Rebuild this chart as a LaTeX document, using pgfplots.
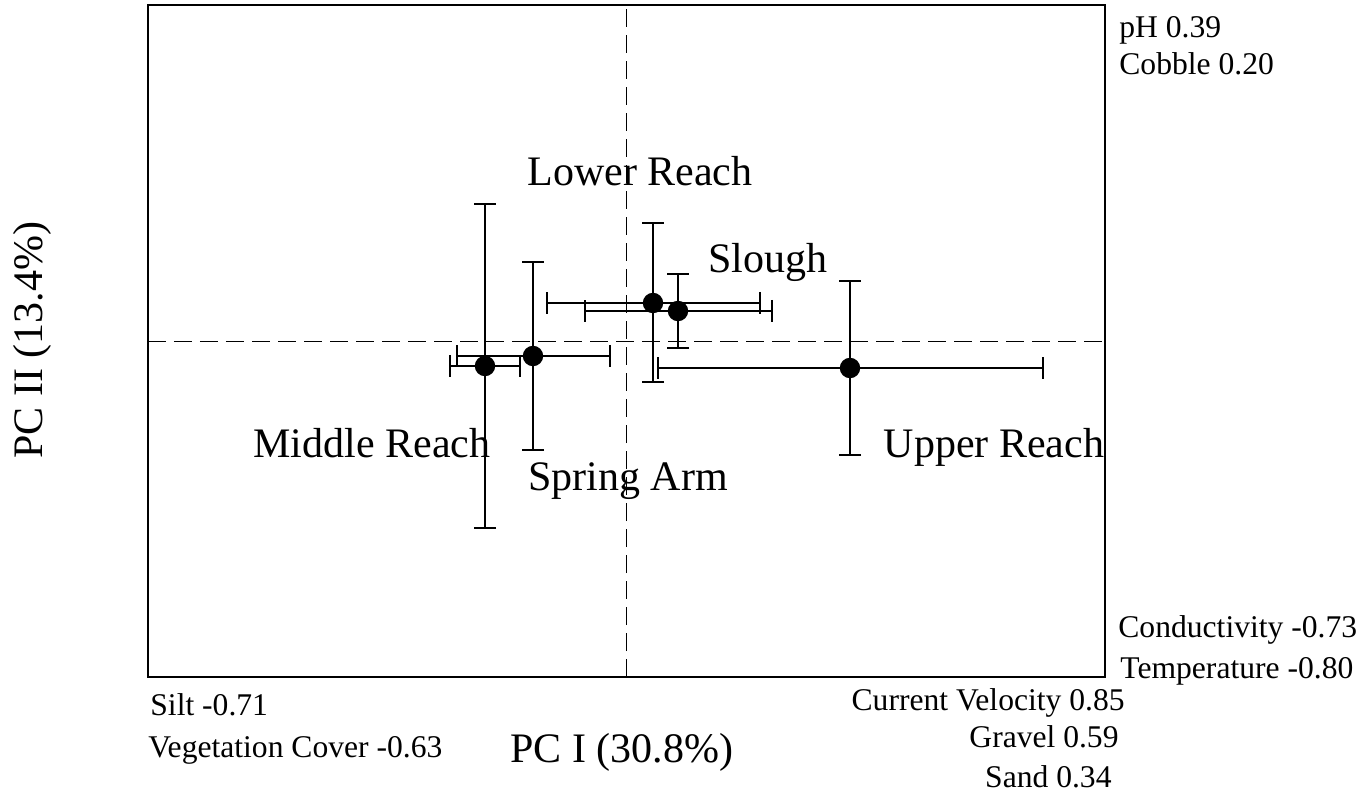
\documentclass[border=0pt]{standalone}
\usepackage{pgfplots}
\pgfplotsset{compat=1.18}
\usepackage{fontspec}
\setmainfont{Liberation Serif}
\newcommand{\bigf}{\fontsize{21}{25}\selectfont}
\newcommand{\smlf}{\fontsize{15.8}{19}\selectfont}
\begin{document}
\begin{tikzpicture}
\begin{axis}[
  at={(0,0)}, anchor=south west,
  scale only axis, width=478.5pt, height=336pt,
  xmin=-4.78, xmax=4.79, ymin=-3.35, ymax=3.37,
  xtick=\empty, ytick=\empty,
  axis line style={line width=1pt},
  clip=false,
]
% reference lines
\addplot[black, line width=0.5pt, dash pattern=on 9pt off 4pt] coordinates {(0,-3.35) (0,3.37)};
\addplot[black, line width=0.5pt, dash pattern=on 9pt off 4pt] coordinates {(-4.78,0) (4.79,0)};
% site means with error bars
\addplot[only marks, mark=*, mark size=4.6pt, black, line width=1pt,
  error bars/.cd, x dir=both, x explicit, y dir=both, y explicit,
  error bar style={line width=1pt, black},
  error mark=|,
  error mark options={mark size=5.5pt, line width=1pt, black}]
  table[x=x, y=y, x error=ex, y error=ey] {
x y ex ey
-1.41 -0.24 0.35 1.615
-0.93 -0.14 0.765 0.935
0.27 0.39 1.065 0.795
0.52 0.31 0.935 0.37
2.24 -0.26 1.925 0.87
};
% group labels
\node[anchor=base, inner sep=0] at (axis cs:0.14,1.56) {\bigf Lower Reach};
\node[anchor=base, inner sep=0] at (axis cs:1.42,0.69) {\bigf Slough};
\node[anchor=base, inner sep=0] at (axis cs:-2.54,-1.15) {\bigf Middle Reach};
\node[anchor=base, inner sep=0] at (axis cs:0.02,-1.48) {\bigf Spring Arm};
\node[anchor=base, inner sep=0] at (axis cs:3.68,-1.15) {\bigf Upper Reach};
% loadings
\node[anchor=base west, inner sep=0] at (axis cs:4.93,3.04) {\smlf pH 0.39};
\node[anchor=base west, inner sep=0] at (axis cs:4.93,2.67) {\smlf Cobble 0.20};
\node[anchor=base west, inner sep=0] at (axis cs:4.92,-2.95) {\smlf Conductivity -0.73};
\node[anchor=base west, inner sep=0] at (axis cs:4.94,-3.36) {\smlf Temperature -0.80};
\node[anchor=base west, inner sep=0] at (axis cs:-4.76,-3.73) {\smlf Silt -0.71};
\node[anchor=base west, inner sep=0] at (axis cs:-4.78,-4.15) {\smlf Vegetation Cover -0.63};
\node[anchor=base east, inner sep=0] at (axis cs:4.99,-3.68) {\smlf Current Velocity 0.85};
\node[anchor=base east, inner sep=0] at (axis cs:4.93,-4.05) {\smlf Gravel 0.59};
\node[anchor=base east, inner sep=0] at (axis cs:4.86,-4.45) {\smlf Sand 0.34};
% axis titles
\node[anchor=base, inner sep=0] at (axis cs:-0.04,-4.20) {\bigf PC I (30.8\%)};
\node[anchor=base, inner sep=0, rotate=90] at (axis cs:-5.83,0.02) {\bigf PC II (13.4\%)};
\coordinate (bl) at (axis cs:-6.26,-4.51);
\coordinate (tr) at (axis cs:7.34,3.42);
\end{axis}
\pgfresetboundingbox
\path[use as bounding box] (bl) rectangle (tr);
\end{tikzpicture}
\end{document}
